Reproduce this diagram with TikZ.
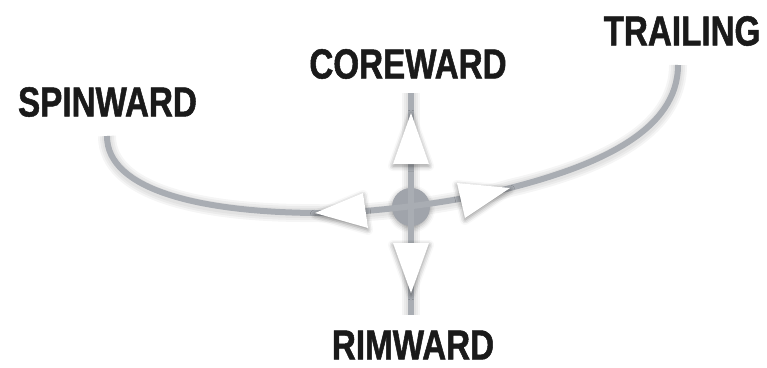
\documentclass[tikz,border=0pt]{standalone}
\usepackage{fontspec}
\newfontfamily\lblfont[FakeStretch=0.79,FakeBold=1.2]{Liberation Sans}
\usetikzlibrary{shadows.blur}
\definecolor{linegray}{HTML}{A9ADB3}
\definecolor{dotgray}{HTML}{A0A4AB}
\definecolor{inkblack}{HTML}{1A1A1A}
\begin{document}
\begin{tikzpicture}[x=1pt,y=-1pt,
  lbl/.style={font=\lblfont\bfseries\fontsize{42}{42}\selectfont, text=inkblack, inner sep=0pt},
  axisline/.style={draw=linegray, line width=6.5pt},
  curveline/.style={draw=linegray, line width=6pt},
  glowline/.style={draw=black, opacity=0.04, line width=#1},
  arrowhead/.style={fill=white, blur shadow={shadow xshift=0pt, shadow yshift=-2pt, shadow blur radius=5pt, shadow opacity=45}},
  hubdot/.style={circle, fill=dotgray, minimum size=38pt, inner sep=0pt, blur shadow={shadow xshift=0pt, shadow yshift=-2pt, shadow blur radius=5pt, shadow opacity=35}}]
\useasboundingbox (0,0) rectangle (767,367);

% labels
\node[lbl] (spin) at (107.5,102) {SPINWARD};
\node[lbl] (core) at (408,64) {COREWARD};
\node[lbl] (trail) at (682,31) {TRAILING};
\node[lbl] (rim) at (413,345) {RIMWARD};

% named ends
\coordinate (spinEnd) at (107,136);
\coordinate (trailEnd) at (678,65);
\coordinate (coreEnd) at (411,93);
\coordinate (rimEnd) at (411,315);
\coordinate (leftTip) at (315,213);
\coordinate (rightTip) at (510,188);

% soft glow under the lines
\foreach \w in {10,14,18}{
  \path[glowline=\w pt, yshift=-2pt] (spinEnd) .. controls (107,190) and (200,212) .. (leftTip)
     .. controls (360,214) and (455,203) .. (rightTip)
     .. controls (600,165) and (678,130) .. (trailEnd);
  \path[glowline=\w pt, yshift=-2pt] (coreEnd) -- (rimEnd);
}

% hub
\node[hubdot] (hub) at (411,207) {};

% axes
\draw[axisline] (coreEnd) -- (rimEnd);
\draw[curveline] (spinEnd) .. controls (107,190) and (200,212) .. (leftTip)
     .. controls (360,214) and (455,203) .. (rightTip)
     .. controls (600,165) and (678,130) .. (trailEnd);

% arrowheads
\path[arrowhead] (411,113) -- (429,164) -- (393,164) -- cycle;
\path[arrowhead] (411,293) -- (393,243) -- (429,243) -- cycle;
\path[arrowhead] (leftTip) -- (363,193) -- (368,228) -- cycle;
\path[arrowhead] (rightTip) -- (465,218) -- (457,183) -- cycle;
\end{tikzpicture}
\end{document}
